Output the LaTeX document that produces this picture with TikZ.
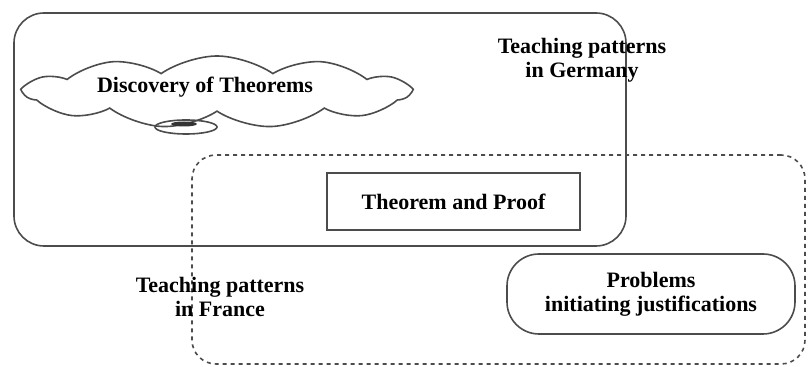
\documentclass[tikz,border=0pt]{standalone}
\usepackage{fontspec}
\setmainfont{Liberation Serif}
\usetikzlibrary{shapes.symbols,shapes.geometric}

\begin{document}
\begin{tikzpicture}[x=0.5pt,y=-0.5pt,
  font=\bfseries\fontsize{11}{12}\selectfont,
  line/.style={draw=black!70,line width=0.8pt},
  region/.style={line,rounded corners=15pt,inner sep=0pt},
  topic/.style={line,align=center,inner sep=2pt},
  label/.style={align=center,inner sep=0pt}
]
\useasboundingbox (0,0) rectangle (810,367);

% the two teaching patterns
\node[region,minimum width=306pt,minimum height=116.5pt] (germany) at (320,129.5) {};
\node[region,dashed,dash pattern=on 2pt off 2pt,rounded corners=12pt,minimum width=306.5pt,minimum height=104.5pt] (france) at (498.5,259.5) {};

\node[label] (germanylbl) at (582,60) {Teaching patterns\\in Germany};
\node[label] (francelbl) at (220,297) {Teaching patterns\\in France};

% contents
\node[topic,cloud,cloud puffs=11,cloud puff arc=70,aspect=5.5,minimum width=192pt,minimum height=36pt] (discovery) at (217,92) {};
\node[label] (discoverylbl) at (205,87) {Discovery of Theorems};
\node[line,ellipse,minimum width=31pt,minimum height=7pt,inner sep=0pt] (tail) at (186,127) {};
\node[ellipse,fill=black!80,minimum width=13pt,minimum height=2.5pt,inner sep=0pt] (tailblob) at (184,124) {};

\node[topic,minimum width=126.5pt,minimum height=28.5pt] (proof) at (453.5,201.5) {Theorem and Proof};
\node[topic,rounded corners=16pt,minimum width=144pt,minimum height=40pt] (problems) at (651,294) {Problems\\initiating justifications};
\end{tikzpicture}
\end{document}
